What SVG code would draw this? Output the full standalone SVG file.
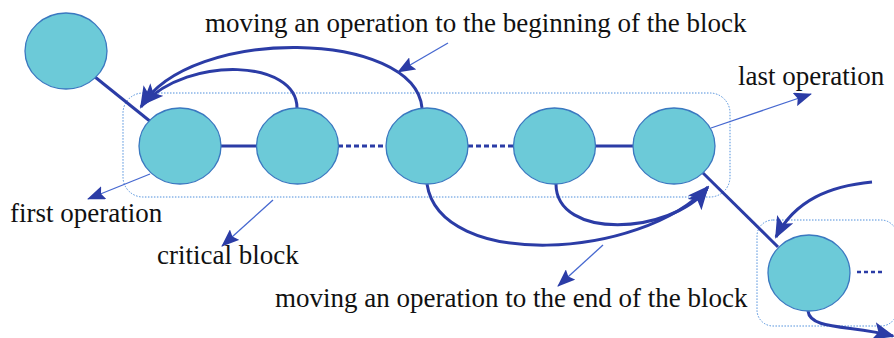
<svg xmlns="http://www.w3.org/2000/svg" width="894" height="338" viewBox="0 0 894 338">
<style>
.node{fill:#6ccad8;stroke:#3a78c0;stroke-width:1.3}
.block{fill:none;stroke:#4f8fdc;stroke-width:1;stroke-dasharray:1.5 1.5}
.edge{fill:none;stroke:#2b3ca6;stroke-width:3}
.dash{fill:none;stroke:#2b3ca6;stroke-width:3;stroke-dasharray:5 3}
.move{fill:none;stroke:#2b3ca6;stroke-width:3;marker-end:url(#big)}
.ptr{fill:none;stroke:#4668d0;stroke-width:1.3;marker-end:url(#small)}
.lbl{font-family:'Liberation Serif', 'Times New Roman', serif;font-size:27px;fill:#111}
</style>
<defs>
<marker id="big" markerUnits="userSpaceOnUse" markerWidth="22" markerHeight="18" viewBox="0 0 22 18" refX="20" refY="9" orient="auto">
<path d="M0,0 L22,9 L0,18 L5,9 Z" fill="#2b3ca6"/>
</marker>
<marker id="small" markerUnits="userSpaceOnUse" markerWidth="18" markerHeight="14" viewBox="0 0 18 14" refX="17" refY="7" orient="auto">
<path d="M0,0 L18,7 L0,14 L3,7 Z" fill="#2b3ca6"/>
</marker>
</defs>

<rect class="block" x="123" y="93" width="607" height="104" rx="20"/>
<rect class="block" x="757" y="220" width="140" height="106" rx="16"/>

<g id="connectors">
<line class="edge" x1="95" y1="77" x2="151" y2="122"/>
<line class="edge" x1="221" y1="146" x2="257" y2="146"/>
<line class="dash" x1="338" y1="146" x2="387" y2="146"/>
<line class="dash" x1="468" y1="146" x2="513" y2="146"/>
<line class="edge" x1="596" y1="146" x2="633" y2="146"/>
<line class="edge" x1="703" y1="173" x2="778" y2="247"/>
<line class="dash" x1="857" y1="272" x2="882" y2="272" style="stroke-width:2.5;stroke-dasharray:4 3"/>
<path class="move" d="M297,108 C297,60 190,55 143,104"/>
<path class="move" d="M422,108 C415,30 190,25 141,107"/>
<path class="move" d="M556,184 C556,240 670,235 707,189"/>
<path class="move" d="M427,184 C440,270 640,260 708,187"/>
<path class="move" d="M872,182 C830,186 795,200 776,237"/>
<path class="move" d="M808,311 C810,330 850,325 893,336"/>
<path class="ptr" d="M448,43 L398,72"/>
<path class="ptr" d="M711,128 L811,94"/>
<path class="ptr" d="M150,174 L88,199"/>
<path class="ptr" d="M273,200 L222,246"/>
<path class="ptr" d="M603,245 L558,286"/>
</g>

<g id="n0"><ellipse class="node" cx="66" cy="51" rx="41" ry="38"/></g>
<g id="n1"><ellipse class="node" cx="180" cy="146" rx="41" ry="38"/></g>
<g id="n2"><ellipse class="node" cx="297.5" cy="146" rx="41" ry="38"/></g>
<g id="n3"><ellipse class="node" cx="427" cy="146" rx="41" ry="38"/></g>
<g id="n4"><ellipse class="node" cx="554.5" cy="146" rx="41" ry="38"/></g>
<g id="n5"><ellipse class="node" cx="674" cy="146" rx="41" ry="38"/></g>
<g id="n6"><ellipse class="node" cx="809" cy="273" rx="41" ry="38"/></g>

<g id="labels" font-family="Liberation Serif, serif">
<text class="lbl" x="205" y="32">moving an operation to the beginning of the block</text>
<text class="lbl" x="738" y="85">last operation</text>
<text class="lbl" x="10" y="222">first operation</text>
<text class="lbl" x="157" y="264">critical block</text>
<text class="lbl" x="275" y="307">moving an operation to the end of the block</text>
</g>
</svg>
